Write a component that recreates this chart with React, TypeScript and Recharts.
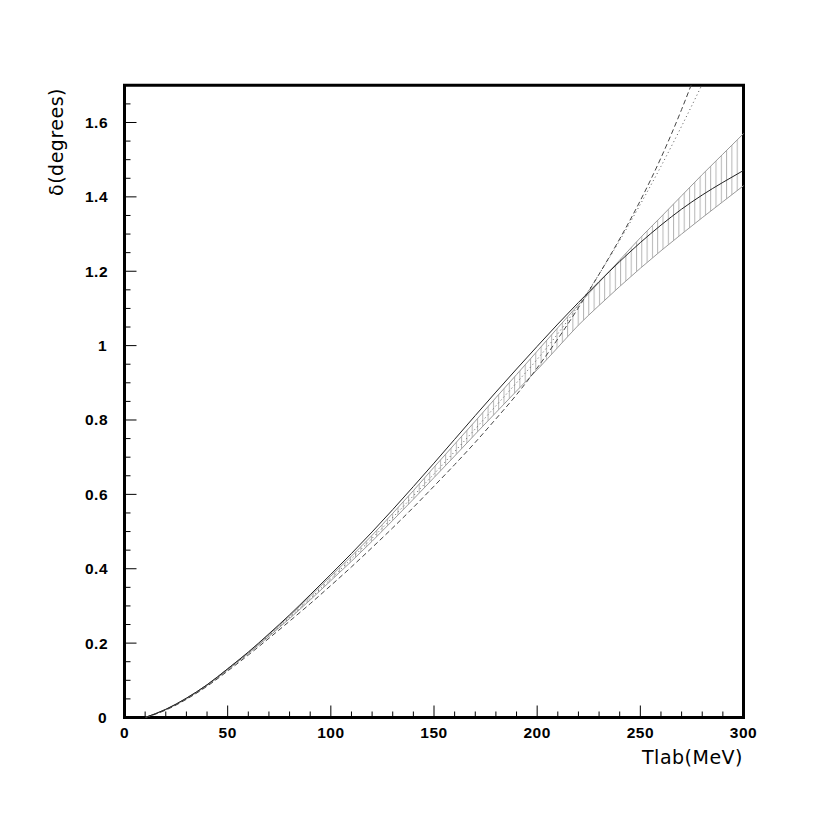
import React from "react";
import { ComposedChart, Line, Area, XAxis, YAxis, ReferenceArea } from "recharts";

// T_lab grid (MeV)
const tlab = [10, 20, 30, 40, 50, 60, 70, 80, 90, 100, 110, 120, 130, 140, 150, 160, 170, 180, 190, 200, 210, 220, 230, 240, 250, 260, 270, 280, 290, 300];

// phase shift curves, degrees
const solid = [0, 0.022, 0.052, 0.088, 0.131, 0.176, 0.225, 0.276, 0.33, 0.385, 0.441, 0.499, 0.559, 0.621, 0.684, 0.748, 0.812, 0.875, 0.937, 0.998, 1.058, 1.116, 1.172, 1.226, 1.277, 1.324, 1.367, 1.405, 1.439, 1.471];
const bandHi = [0, 0.022, 0.052, 0.088, 0.131, 0.175, 0.223, 0.273, 0.326, 0.38, 0.434, 0.49, 0.549, 0.61, 0.673, 0.735, 0.797, 0.86, 0.922, 0.985, 1.048, 1.11, 1.17, 1.23, 1.29, 1.346, 1.403, 1.46, 1.515, 1.57];
const bandLo = [0, 0.021, 0.05, 0.086, 0.128, 0.172, 0.218, 0.266, 0.316, 0.368, 0.42, 0.474, 0.53, 0.587, 0.645, 0.703, 0.762, 0.82, 0.878, 0.935, 0.995, 1.055, 1.108, 1.159, 1.208, 1.255, 1.3, 1.344, 1.387, 1.43];
const dotted = [0, 0.021, 0.051, 0.087, 0.129, 0.173, 0.22, 0.269, 0.32, 0.373, 0.427, 0.482, 0.538, 0.596, 0.655, 0.715, 0.776, 0.838, 0.9, 0.963, 1.032, 1.108, 1.192, 1.283, 1.38, 1.482, 1.59, 1.703, 1.82, null];
const dashed = [0, 0.02, 0.049, 0.084, 0.125, 0.168, 0.213, 0.259, 0.306, 0.355, 0.405, 0.457, 0.51, 0.565, 0.622, 0.68, 0.74, 0.803, 0.868, 0.94, 1.018, 1.102, 1.192, 1.287, 1.39, 1.505, 1.635, 1.78, null, null];

const xTicks = [0, 10, 20, 30, 40, 50, 60, 70, 80, 90, 100, 110, 120, 130, 140, 150, 160, 170, 180, 190, 200, 210, 220, 230, 240, 250, 260, 270, 280, 290, 300];
const yTicks = [0, 0.05, 0.1, 0.15, 0.2, 0.25, 0.3, 0.35, 0.4, 0.45, 0.5, 0.55, 0.6, 0.65, 0.7, 0.75, 0.8, 0.85, 0.9, 0.95, 1, 1.05, 1.1, 1.15, 1.2, 1.25, 1.3, 1.35, 1.4, 1.45, 1.5, 1.55, 1.6, 1.65, 1.7];

const data = tlab.map((t, i) => ({
  t,
  solid: solid[i],
  hi: bandHi[i],
  lo: bandLo[i],
  band: [bandLo[i], bandHi[i]],
  dotted: dotted[i],
  dashed: dashed[i],
}));

const labelFont = {
  fontFamily: "'Liberation Sans', Arial, sans-serif",
  fontWeight: 700,
  fontSize: 15.5,
  letterSpacing: 0.5,
};

const XTick = ({ x, y, payload }: any) => {
  const v = payload.value;
  const major = v % 50 === 0;
  return (
    <g>
      <line x1={x} x2={x} y1={y} y2={y - (major ? 12 : 6)} stroke="#000" />
      {major && (
        <text x={x} y={y + 20} textAnchor="middle" fill="#000" style={labelFont}>
          {v}
        </text>
      )}
    </g>
  );
};

const YTick = ({ x, y, payload }: any) => {
  const v = payload.value;
  const major = Math.round(v * 100) % 20 === 0;
  const txt = String(Math.round(v * 10) / 10);
  const dec = txt.includes(".");
  return (
    <g>
      <line x1={x} x2={x + (major ? 12 : 6)} y1={y} y2={y} stroke="#000" />
      {major && (
        <text
          x={dec ? x - 39.5 : x - 17.5}
          y={y + 5.5}
          textAnchor={dec ? "start" : "end"}
          fill="#000"
          style={labelFont}
        >
          {txt}
        </text>
      )}
    </g>
  );
};

export default function App() {
  return (
    <div style={{ position: "absolute", left: 0, top: 0, width: 830, height: 830, background: "#fff" }}>
      <ComposedChart
        width={830}
        height={830}
        data={data}
        margin={{ top: 85.3, right: 86.5, bottom: 82.5, left: 84.5 }}
      >
        <defs>
          <pattern id="hatch" patternUnits="userSpaceOnUse" width="5.3" height="6">
            <line x1="0.5" y1="0" x2="0.5" y2="6" stroke="#b4b4b4" strokeWidth="1" />
          </pattern>
        </defs>
        <XAxis
          dataKey="t"
          type="number"
          domain={[0, 300]}
          ticks={xTicks}
          interval={0}
          height={30}
          tickSize={0}
          tickMargin={0}
          axisLine={false}
          tickLine={false}
          tick={<XTick />}
        />
        <YAxis
          type="number"
          domain={[0, 1.7]}
          allowDataOverflow
          ticks={yTicks}
          interval={0}
          width={40}
          tickSize={0}
          tickMargin={0}
          axisLine={false}
          tickLine={false}
          tick={<YTick />}
        />
        <Area
          dataKey="band"
          type="monotone"
          fill="url(#hatch)"
          fillOpacity={1}
          stroke="none"
          isAnimationActive={false}
        />
        <Line dataKey="hi" type="monotone" stroke="#9a9a9a" strokeWidth={1} dot={false} isAnimationActive={false} />
        <Line dataKey="lo" type="monotone" stroke="#9a9a9a" strokeWidth={1} dot={false} isAnimationActive={false} />
        <Line dataKey="dotted" type="monotone" stroke="#555" strokeWidth={1} strokeDasharray="1 3" dot={false} isAnimationActive={false} />
        <Line dataKey="dashed" type="monotone" stroke="#444" strokeWidth={1} strokeDasharray="5 3" dot={false} isAnimationActive={false} />
        <Line dataKey="solid" type="monotone" stroke="#222" strokeWidth={1} dot={false} isAnimationActive={false} />
        <ReferenceArea x1={0} x2={300} y1={0} y2={1.7} fill="none" stroke="#000" strokeWidth={3} ifOverflow="visible" />
      </ComposedChart>
      <div
        style={{
          position: "absolute",
          left: 56,
          top: 141.5,
          transform: "translate(-50%, -50%) rotate(-90deg)",
          fontFamily: "'DejaVu Sans', sans-serif",
          fontSize: 19,
          letterSpacing: 0.5,
          whiteSpace: "nowrap",
          lineHeight: "22px",
        }}
      >
        δ(degrees)
      </div>
      <div
        style={{
          position: "absolute",
          right: 830 - 743,
          top: 746,
          fontFamily: "'DejaVu Sans', sans-serif",
          fontSize: 19,
          letterSpacing: 0.5,
          whiteSpace: "nowrap",
        }}
      >
        Tlab(MeV)
      </div>
    </div>
  );
}
